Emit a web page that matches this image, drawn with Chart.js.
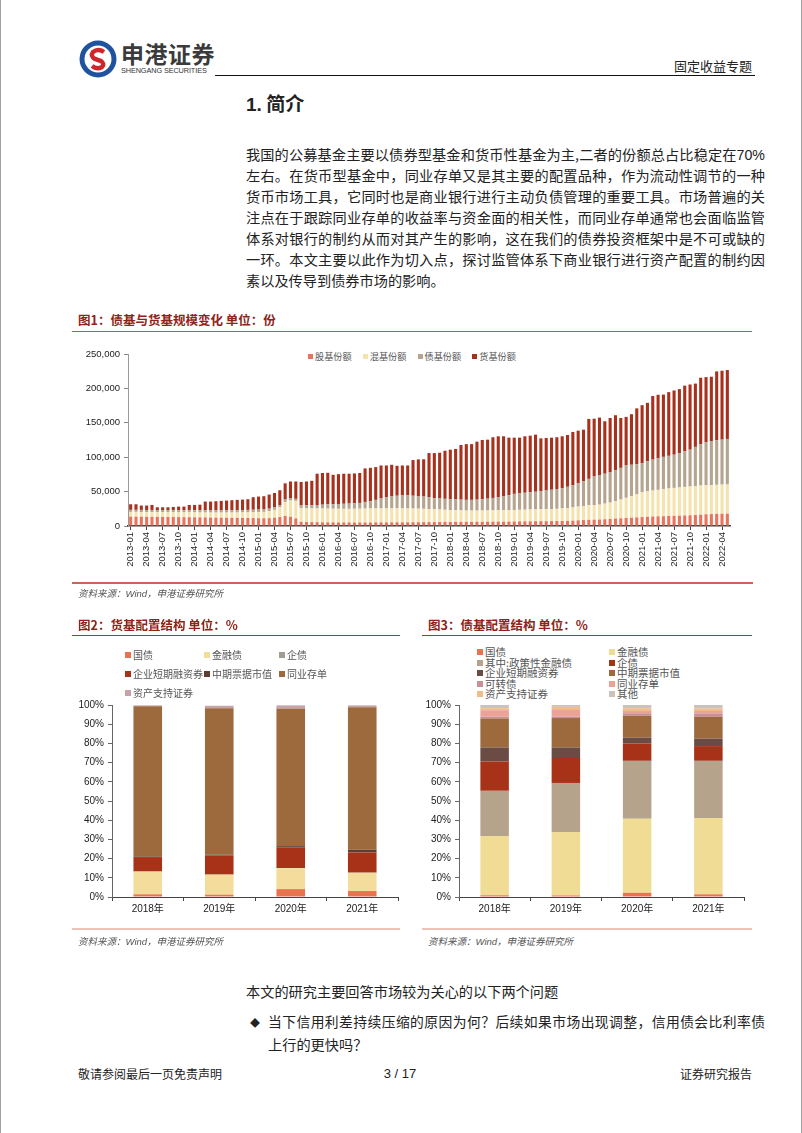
<!DOCTYPE html>
<html>
<head>
<meta charset="utf-8">
<script src="https://cdn.jsdelivr.net/npm/chart.js@4.4.1/dist/chart.umd.min.js"></script>
<style>
  body { margin:0; background:#fff; }
  #page { position:relative; width:802px; height:1133px; overflow:hidden; background:#fff;
          font-family:"Noto Sans CJK SC", sans-serif; color:#222; }
  .abs { position:absolute; white-space:nowrap; }
  .line { position:absolute; left:246px; width:519px; height:21px; line-height:21px; font-size:14.2px;
          text-align:justify; text-align-last:justify; overflow:hidden; }
  .cap { position:absolute; font-size:12.5px; font-weight:bold; color:#8e2418; line-height:14px; }
  .src { position:absolute; font-size:9.5px; font-style:italic; color:#555; line-height:12px; }
  .rule { position:absolute; height:0; }
  .lg { position:absolute; display:flex; align-items:center; font-size:10px; color:#555; line-height:12px; white-space:nowrap; }
  .lg i { display:inline-block; width:6px; height:6px; margin-right:2px; }
  canvas { position:absolute; }
</style>
</head>
<body>
<div id="page">
  <div class="abs" style="left:0;top:0;width:1px;height:1133px;background:#a0a0a0"></div>
  <div class="abs" style="left:801px;top:0;width:1px;height:1133px;background:#a0a0a0"></div>

  <!-- header -->
  <svg class="abs" style="left:79px;top:40px" width="38" height="38" viewBox="0 0 38 38">
    <circle cx="19" cy="19" r="18.5" fill="#1f53a0"/>
    <circle cx="19" cy="19" r="13.5" fill="#fff"/>
    <path d="M25 12 Q19 8 14 12 Q11 16 16 19 L22 21 Q26 24 23 27 Q18 30 13 26" stroke="#d0262b" stroke-width="4.5" fill="none"/>
  </svg>
  <div class="abs" style="left:121px;top:40px;font-size:23px;font-weight:bold;color:#3b3b3b;letter-spacing:0.5px;line-height:26px">申港证券</div>
  <div class="abs" style="left:121px;top:66px;font-family:'Liberation Sans',Arial;font-size:7.3px;color:#333;letter-spacing:-0.1px">SHENGANG SECURITIES</div>
  <div class="abs" style="left:215px;top:75px;width:540px;height:1px;background:#111"></div>
  <div class="abs" style="left:672px;top:58px;font-size:13px;color:#222;line-height:16px;width:80px;text-align:right">固定收益专题</div>

  <div class="abs" style="left:246px;top:91px;font-size:19px;font-weight:bold;line-height:24px"><span style="font-family:'Liberation Sans',Arial">1.</span> 简介</div>

  <div class="line" style="top:144px">我国的公募基金主要以债券型基金和货币性基金为主,二者的份额总占比稳定在<span style="font-family:'Liberation Sans',Arial">70%</span></div>
  <div class="line" style="top:165px">左右。在货币型基金中，同业存单又是其主要的配置品种，作为流动性调节的一种</div>
  <div class="line" style="top:186px">货币市场工具，它同时也是商业银行进行主动负债管理的重要工具。市场普遍的关</div>
  <div class="line" style="top:207px">注点在于跟踪同业存单的收益率与资金面的相关性，而同业存单通常也会面临监管</div>
  <div class="line" style="top:228px">体系对银行的制约从而对其产生的影响，这在我们的债券投资框架中是不可或缺的</div>
  <div class="line" style="top:249px">一环。本文主要以此作为切入点，探讨监管体系下商业银行进行资产配置的制约因</div>
  <div class="line" style="top:270px;text-align:left;text-align-last:left">素以及传导到债券市场的影响。</div>

  <!-- figure 1 -->
  <div class="cap" style="left:78px;top:313px">图1：债基与货基规模变化 单位：份</div>
  <div class="rule" style="left:72px;top:331px;width:680px;border-top:1px solid #b8574b"></div>
  <div id="lg1" class="lg" style="left:308px;top:350px;font-size:9.2px;gap:11px"></div>
  <canvas id="c1" width="685" height="255" style="left:70px;top:340px"></canvas>
  <div class="rule" style="left:72px;top:582px;width:681px;border-top:2px solid #cf6456"></div>
  <div class="src" style="left:78px;top:587px">资料来源：<span style="font-family:'Liberation Sans',Arial">Wind</span>，申港证券研究所</div>

  <!-- figure 2 -->
  <div class="cap" style="left:78px;top:618px">图2：货基配置结构 单位：%</div>
  <div class="rule" style="left:72px;top:635px;width:328px;border-top:1px solid #9b3a2e"></div>
  <div id="lg2"></div>
  <canvas id="c2" width="335" height="225" style="left:72px;top:695px"></canvas>
  <div class="rule" style="left:72px;top:928px;width:328px;border-top:2px solid #efc4b8"></div>
  <div class="src" style="left:78px;top:935px">资料来源：<span style="font-family:'Liberation Sans',Arial">Wind</span>，申港证券研究所</div>

  <!-- figure 3 -->
  <div class="cap" style="left:428px;top:618px">图3：债基配置结构 单位：%</div>
  <div class="rule" style="left:422px;top:635px;width:330px;border-top:1px solid #9b3a2e"></div>
  <div id="lg3"></div>
  <canvas id="c3" width="335" height="225" style="left:420px;top:695px"></canvas>
  <div class="rule" style="left:422px;top:928px;width:330px;border-top:2px solid #efc4b8"></div>
  <div class="src" style="left:428px;top:935px">资料来源：<span style="font-family:'Liberation Sans',Arial">Wind</span>，申港证券研究所</div>

  <div class="abs" style="left:246px;top:981px;font-size:14.2px;line-height:21px">本文的研究主要回答市场较为关心的以下两个问题</div>
  <div class="abs" style="left:250px;top:1012px;font-size:10px;line-height:21px">◆</div>
  <div class="line" style="left:268px;width:497px;top:1011px;font-size:13.8px">当下信用利差持续压缩的原因为何？后续如果市场出现调整，信用债会比利率债</div>
  <div class="abs" style="left:268px;top:1034px;font-size:14.2px;line-height:21px">上行的更快吗？</div>

  <div class="abs" style="left:78px;top:1066px;font-size:12px;line-height:16px">敬请参阅最后一页免责声明</div>
  <div class="abs" style="left:370px;top:1066px;width:60px;text-align:center;font-family:'Liberation Sans',Arial;font-size:13px;line-height:16px">3 / 17</div>
  <div class="abs" style="left:652px;top:1066px;width:100px;text-align:right;font-size:12px;line-height:16px">证券研究报告</div>
</div>

<script>
Chart.defaults.font.family = "'Liberation Sans', Arial, 'Noto Sans CJK SC', sans-serif";
Chart.defaults.color = '#222';

// 图1: 2013-01 .. 2022-05, monthly
const months = [];
for (let y = 2013; y <= 2022; y++) {
  for (let m = 1; m <= 12; m++) {
    if (y === 2022 && m > 5) break;
    months.push(y + '-' + String(m).padStart(2, '0'));
  }
}
const fundNames = ['股基份额', '混基份额', '债基份额', '货基份额'];
const fundColors = ['#e8735a', '#f5e3ae', '#b5a48e', '#a8311e'];
const stockShares = [
  13600,13500,13400,13300,13300,13200,13200,13100,13000,12900,12800,12700,
  12600,12500,12400,12300,12200,12100,12000,11900,11800,11700,11600,11500,
  11300,11200,11400,12000,13000,14500,13500,11000,6000,5800,5600,5500,
  5400,5300,5300,5200,5200,5200,5100,5100,5100,5200,5200,5300,
  5300,5300,5400,5400,5400,5500,5500,5600,5600,5700,5700,5800,
  5800,5900,5900,6000,6000,6100,6100,6200,6200,6300,6300,6400,
  6600,6700,6800,6800,6900,7000,7000,7100,7200,7300,7500,7800,
  8200,8600,9000,9200,9400,9800,10300,10800,11200,11600,12000,12500,
  13000,13400,13800,14000,14200,14500,14800,15000,15300,15600,16000,16500,
  17000,17300,17600,17800,18000];
const mixedShares = [
  6900,7000,6900,6900,6900,6800,6800,6800,6900,6900,7000,7100,
  7100,7100,7200,7200,7300,7400,7500,7700,7800,8000,8200,8500,
  8900,9300,10100,11500,14000,20500,23500,25500,19800,19800,19900,19900,
  19900,19900,19800,19800,19800,19800,19900,20000,20200,20200,20300,20200,
  20200,20300,20200,20100,20000,19800,19700,19400,19000,18600,18300,17800,
  17400,17100,16800,16500,16400,16300,16400,16400,16600,16700,16800,16800,
  16700,16800,16900,17100,17200,17300,17500,17600,17800,18200,18700,19200,
  20000,20400,21200,21300,21600,22700,23700,25200,27300,29400,31500,33500,
  36000,37100,37700,38500,39300,40000,40600,41000,41500,41800,42000,42300,
  42300,42300,42300,42300,42300];
const bondShares = [
  3000,3000,3100,3100,3100,3200,3200,3200,3200,3200,3200,3200,
  3200,3200,3200,3200,3200,3200,3300,3300,3400,3500,3600,3600,
  3600,3700,3700,3500,3500,3500,3000,3000,4200,4400,4700,5100,
  5700,6300,6700,7000,7300,7600,8000,8400,9700,10600,12500,14500,
  16500,17400,18400,19500,19100,18700,17800,17800,17400,16100,16000,15900,
  15800,15700,15600,15500,15600,15900,16500,17200,18000,18800,19900,21600,
  23400,24000,24600,25100,25700,26400,27100,28000,28800,29500,30800,32500,
  33800,36000,38300,41500,43000,43500,43800,45000,46000,47000,45500,44000,
  42400,43500,45000,46200,47000,47500,48200,50000,51700,53600,57000,60200,
  62700,63900,64900,65400,66200];
const moneyShares = [
  8100,8100,6300,6400,7300,4000,4000,4100,4600,5200,5200,7600,
  7700,8200,12700,12800,13300,13800,14200,14600,15000,15200,15500,18200,
  19000,19100,20500,21000,21500,23500,24700,25200,34000,34700,35500,45500,
  46000,45800,42600,43400,43700,43400,43400,43500,48700,48600,47600,48000,
  46000,46000,43500,43000,43500,51800,53800,54200,64000,65600,66500,69900,
  72000,73300,79400,81000,81000,84300,86000,85700,88200,88600,87400,83600,
  81700,80900,82100,82300,83000,76700,76400,75700,75200,75400,75300,77200,
  76600,75000,87100,84000,83600,76200,79200,80000,72500,70600,73500,81000,
  84200,85000,92500,92000,90500,92600,93400,93000,95500,94700,92000,96500,
  94400,93500,99900,100200,100200];
const yTicks1 = [0, 50000, 100000, 150000, 200000, 250000];

// 图2 / 图3: years
const years = ['2018年', '2019年', '2020年', '2021年'];
const mmNames = ['国债', '金融债', '企债', '企业短期融资券', '中期票据市值', '同业存单', '资产支持证券'];
const mmColors = ['#e8734f', '#f3dc9c', '#a39c93', '#a83218', '#5e3d34', '#9c6a3d', '#c6a2a9'];
const mmGov = [1.4, 1.2, 4.1, 3.1];
const mmFin = [11.8, 10.4, 10.9, 9.5];
const mmCorp = [0.1, 0.1, 0.1, 0.1];
const mmCp = [7.5, 10.0, 10.8, 10.5];
const mmMtn = [0.3, 0.4, 0.6, 1.4];
const mmNcd = [78.2, 76.2, 71.5, 74.2];
const mmAbs = [0.5, 1.3, 1.8, 1.0];

const bfNames = ['国债', '金融债', '其中:政策性金融债', '企债', '企业短期融资券', '中期票据市值', '可转债', '同业存单', '资产支持证券', '其他'];
const bfColors = ['#e8734f', '#f1dc96', '#b5a38c', '#a83218', '#6b4c44', '#9c6a3d', '#c98e96', '#eba397', '#f1bc85', '#cbc3bb'];
const bfGov = [0.9, 0.8, 2.2, 1.4];
const bfFin = [30.9, 33.0, 38.6, 39.8];
const bfPolicy = [23.5, 25.6, 30.1, 29.7];
const bfCorp = [15.3, 13.0, 9.0, 7.7];
const bfCp = [7.3, 5.5, 3.1, 3.9];
const bfMtn = [15.1, 15.3, 11.4, 11.4];
const bfCb = [0.9, 0.7, 1.3, 1.7];
const bfNcd = [3.4, 3.9, 1.2, 1.3];
const bfAbs = [1.0, 1.2, 1.4, 1.2];
const bfOther = [1.7, 1.0, 1.7, 1.9];

// legend 1
const lg1 = document.getElementById('lg1');
fundNames.forEach((n, i) => {
  const d = document.createElement('div');
  d.style.display = 'flex';
  d.style.alignItems = 'center';
  d.innerHTML = '<i style="background:' + fundColors[i] + ';width:5px;height:5px"></i>' + n;
  lg1.appendChild(d);
});

// legend 2: 3 columns
const lg2 = document.getElementById('lg2');
const lg2x = [125, 204, 279], lg2y = [649, 668, 687];
mmNames.forEach((n, i) => {
  const d = document.createElement('div');
  d.className = 'lg';
  d.style.left = lg2x[i % 3] + 'px';
  d.style.top = lg2y[Math.floor(i / 3)] + 'px';
  d.innerHTML = '<i style="background:' + mmColors[i] + '"></i>' + n;
  lg2.appendChild(d);
});

// legend 3: 2 columns
const lg3 = document.getElementById('lg3');
const lg3x = [477, 609];
bfNames.forEach((n, i) => {
  const d = document.createElement('div');
  d.className = 'lg';
  d.style.fontSize = '10.5px';
  d.style.lineHeight = '10.5px';
  d.style.left = lg3x[i % 2] + 'px';
  d.style.top = (647 + Math.floor(i / 2) * 10.5) + 'px';
  d.innerHTML = '<i style="background:' + bfColors[i] + '"></i>' + n;
  lg3.appendChild(d);
});

new Chart(document.getElementById('c1'), {
  type: 'bar',
  data: {
    labels: months,
    datasets: [stockShares, mixedShares, bondShares, moneyShares].map((d, i) => ({
      label: fundNames[i], data: d, backgroundColor: fundColors[i],
      barPercentage: 0.58, categoryPercentage: 1
    }))
  },
  options: {
    responsive: false,
    animation: false,
    layout: { padding: { top: 14, right: 25, left: 0, bottom: 0 } },
    plugins: { legend: { display: false }, tooltip: { enabled: false } },
    scales: {
      x: {
        stacked: true,
        grid: {
          drawOnChartArea: false, offset: false, tickLength: 4,
          color: ctx => ctx.index % 3 === 0 ? '#444' : 'rgba(0,0,0,0)'
        },
        border: { color: '#404040', width: 1.5 },
        ticks: {
          autoSkip: false, maxRotation: 90, minRotation: 90, padding: 2,
          font: { size: 9.5 }, color: '#222',
          callback: (v, i) => i % 3 === 0 ? months[i] : ''
        },
        afterFit: s => { s.height = 69; }
      },
      y: {
        stacked: true, min: 0, max: 250000,
        afterBuildTicks: s => { s.ticks = yTicks1.map(v => ({ value: v })); },
        ticks: { padding: 4, font: { size: 9.5 }, color: '#222', callback: v => v.toLocaleString('en-US') },
        grid: { drawOnChartArea: false, tickLength: 4, color: '#888' },
        border: { color: '#999' },
        afterFit: s => { s.width = 58; }
      }
    }
  }
});

function pctChart(id, series, names, colors, rightPad, yWidth) {
  new Chart(document.getElementById(id), {
    type: 'bar',
    data: {
      labels: years,
      datasets: series.map((d, i) => ({
        label: names[i], data: d, backgroundColor: colors[i],
        barPercentage: 0.4, categoryPercentage: 1
      }))
    },
    options: {
      responsive: false,
      animation: false,
      layout: { padding: { top: 6, right: rightPad, left: 0, bottom: 0 } },
      plugins: { legend: { display: false }, tooltip: { enabled: false } },
      scales: {
        x: {
          stacked: true,
          grid: { drawOnChartArea: false, tickLength: 4, color: '#444' },
          border: { color: '#444' },
          ticks: { padding: 2, font: { size: 10 }, color: '#222' },
          afterFit: s => { s.height = 23; }
        },
        y: {
          stacked: true, min: 0, max: 100,
          ticks: { stepSize: 10, padding: 4, font: { size: 10 }, color: '#222', callback: v => v + '%' },
          grid: { drawOnChartArea: false, tickLength: 4, color: '#666' },
          border: { color: '#666' },
          afterFit: s => { s.width = yWidth; }
        }
      }
    }
  });
}

pctChart('c2', [mmGov, mmFin, mmCorp, mmCp, mmMtn, mmNcd, mmAbs], mmNames, mmColors, 9, 40);
pctChart('c3', [bfGov, bfFin, bfPolicy, bfCorp, bfCp, bfMtn, bfCb, bfNcd, bfAbs, bfOther], bfNames, bfColors, 11, 39);
</script>
</body>
</html>
